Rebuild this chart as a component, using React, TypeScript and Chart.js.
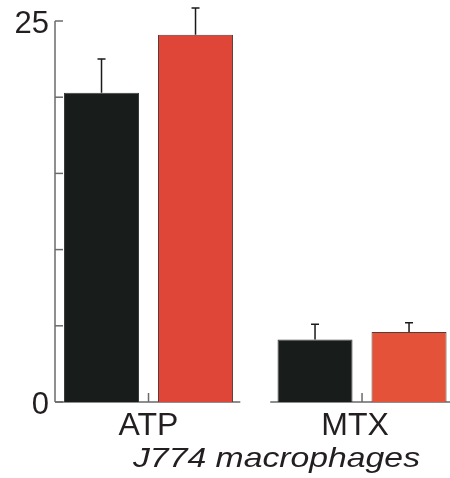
import React, { useEffect, useRef } from "react";
import { Chart, registerables } from "chart.js";

Chart.register(...registerables);

const categories = ["ATP", "MTX"];
const blackValues = [20.3, 4.1];
const blackErrors = [2.2, 1.0];
const redValues = [24.1, 4.6];
const redErrors = [1.75, 0.6];
const yTicks = [0, 5, 10, 15, 20, 25];
const yTickLabels = ["0", "", "", "", "", "25"];
const subtitle = "J774 macrophages";

const FONT = "'Liberation Sans', Arial, Helvetica, sans-serif";

const errorsByDataset = [blackErrors, redErrors];
const valuesByDataset = [blackValues, redValues];

const axesPlugin = {
  id: "customAxes",
  beforeDatasetsDraw(chart: any) {
    const { ctx, chartArea, scales } = chart;
    const x = scales.x;
    const y = scales.y;
    const y0 = y.getPixelForValue(0);
    ctx.save();
    ctx.strokeStyle = "#6a6a6a";
    ctx.lineWidth = 1.5;
    // y axis
    ctx.beginPath();
    ctx.moveTo(chartArea.left, y.getPixelForValue(25));
    ctx.lineTo(chartArea.left, y0);
    ctx.stroke();
    // y ticks (inward)
    yTicks.forEach((t) => {
      const py = y.getPixelForValue(t);
      ctx.beginPath();
      ctx.moveTo(chartArea.left, py);
      ctx.lineTo(chartArea.left + 8, py);
      ctx.stroke();
    });
    // broken x axis
    ctx.beginPath();
    ctx.moveTo(chartArea.left, y0);
    ctx.lineTo(x.getPixelForValue(0.43), y0);
    ctx.moveTo(x.getPixelForValue(0.57), y0);
    ctx.lineTo(chartArea.right, y0);
    ctx.stroke();
    // x ticks (upward)
    categories.forEach((_, i) => {
      const px = x.getPixelForValue(i);
      ctx.beginPath();
      ctx.moveTo(px, y0);
      ctx.lineTo(px, y0 - 9);
      ctx.stroke();
    });
    ctx.restore();
  },
  afterDatasetsDraw(chart: any) {
    const { ctx, scales } = chart;
    const x = scales.x;
    const y = scales.y;
    const y0 = y.getPixelForValue(0);
    ctx.save();
    // error bars
    ctx.strokeStyle = "#1a1a1a";
    ctx.lineWidth = 1.5;
    chart.data.datasets.forEach((_: any, di: number) => {
      const meta = chart.getDatasetMeta(di);
      meta.data.forEach((bar: any, i: number) => {
        const top = y.getPixelForValue(valuesByDataset[di][i] + errorsByDataset[di][i]);
        ctx.beginPath();
        ctx.moveTo(bar.x, bar.y);
        ctx.lineTo(bar.x, top);
        ctx.moveTo(bar.x - 4, top);
        ctx.lineTo(bar.x + 4, top);
        ctx.stroke();
      });
    });
    // y labels
    ctx.fillStyle = "#231f20";
    ctx.font = `31px ${FONT}`;
    ctx.textAlign = "right";
    ctx.textBaseline = "alphabetic";
    yTicks.forEach((t, i) => {
      if (!yTickLabels[i]) return;
      ctx.fillText(yTickLabels[i], 49, y.getPixelForValue(t) + 11.5);
    });
    // category labels
    const labelShift = [0, -7];
    ctx.font = `32px ${FONT}`;
    ctx.textAlign = "center";
    categories.forEach((c, i) => {
      ctx.fillText(c, x.getPixelForValue(i) + labelShift[i], y0 + 33);
    });
    // subtitle (italic, horizontally stretched)
    ctx.font = `italic 28px ${FONT}`;
    const w = ctx.measureText(subtitle).width;
    const target = 287;
    const cx = 276.5;
    ctx.translate(cx, y0 + 65);
    ctx.scale(target / w, 1);
    ctx.fillText(subtitle, 0, 0);
    ctx.restore();
  },
};

export default function App() {
  const ref = useRef<HTMLCanvasElement | null>(null);
  useEffect(() => {
    if (!ref.current) return;
    const chart = new Chart(ref.current, {
      type: "bar",
      data: {
        datasets: [
          {
            label: "black",
            data: categories.map((_, i) => ({ x: i, y: blackValues[i] })),
            backgroundColor: "#181d1c",
            borderColor: "#3a3a3a",
            borderWidth: 1,
          },
          {
            label: "red",
            data: categories.map((_, i) => ({ x: i, y: redValues[i] })),
            backgroundColor: ["#df4637", "#e5523a"],
            borderColor: "#5a3a34",
            borderWidth: 1,
          },
        ],
      },
      options: {
        responsive: false,
        animation: false,
        devicePixelRatio: 1,
        categoryPercentage: 0.8806,
        barPercentage: 0.798,
        layout: { padding: { left: 55, right: 0, top: 21, bottom: 76 } },
        scales: {
          x: {
            type: "linear",
            min: -0.438,
            max: 1.412,
            offset: false,
            bounds: "data",
            display: false,
            grid: { offset: false },
            ticks: { stepSize: 1, includeBounds: false },
            afterBuildTicks: (scale: any) => {
              scale.ticks = categories.map((_, i) => ({ value: i }));
            },
          },
          y: { min: 0, max: 25, display: false },
        },
        plugins: {
          legend: { display: false },
          tooltip: { enabled: false },
        },
      } as any,
      plugins: [axesPlugin],
    });
    return () => chart.destroy();
  }, []);
  return (
    <div style={{ position: "fixed", left: 0, top: 0, width: 450, height: 478, background: "#fff" }}>
      <canvas ref={ref} width={450} height={478} style={{ display: "block" }} />
    </div>
  );
}
